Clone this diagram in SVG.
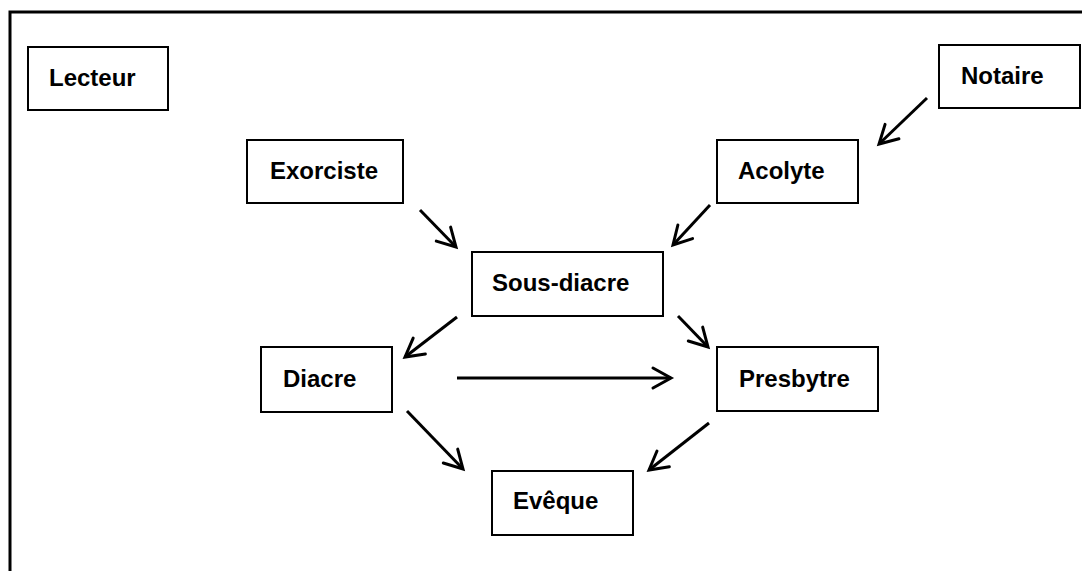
<svg xmlns="http://www.w3.org/2000/svg" width="1082" height="571" viewBox="0 0 1082 571">
<style>
.box{fill:#fff;stroke:#000;stroke-width:2}
.lbl{font-family:"Liberation Sans",Arial,sans-serif;font-weight:bold;font-size:24px;fill:#000}
.conn{stroke:#000;stroke-width:3;fill:none;marker-end:url(#arr)}
</style>
<defs>
<marker id="arr" markerUnits="userSpaceOnUse" markerWidth="30" markerHeight="30" viewBox="-25 -15 30 30" refX="0" refY="0" orient="auto" overflow="visible">
<path d="M-18,-10 L0,0 L-18,10" fill="none" stroke="#000" stroke-width="3" stroke-linecap="round" stroke-linejoin="miter"/>
</marker>
</defs>
<rect width="1082" height="571" fill="#fff"/>
<path id="frame" d="M10,571 V12 H1082" fill="none" stroke="#000" stroke-width="3"/>
<g id="lecteur"><rect class="box" x="28" y="47" width="140" height="63"/><text class="lbl" x="49" y="86">Lecteur</text></g>
<g id="notaire"><rect class="box" x="939" y="45" width="141" height="63"/><text class="lbl" x="961" y="84">Notaire</text></g>
<g id="exorciste"><rect class="box" x="247" y="140" width="156" height="63"/><text class="lbl" x="270" y="179">Exorciste</text></g>
<g id="acolyte"><rect class="box" x="717" y="140" width="141" height="63"/><text class="lbl" x="738" y="179">Acolyte</text></g>
<g id="sous-diacre"><rect class="box" x="472" y="252" width="191" height="64"/><text class="lbl" x="492" y="291">Sous-diacre</text></g>
<g id="diacre"><rect class="box" x="261" y="347" width="131" height="65"/><text class="lbl" x="283" y="387">Diacre</text></g>
<g id="presbytre"><rect class="box" x="717" y="347" width="161" height="64"/><text class="lbl" x="739" y="387">Presbytre</text></g>
<g id="eveque"><rect class="box" x="492" y="471" width="141" height="64"/><text class="lbl" x="513" y="509">Evêque</text></g>
<g id="connectors">
<line class="conn" x1="927" y1="98" x2="879" y2="144"/>
<line class="conn" x1="710" y1="205" x2="673" y2="245"/>
<line class="conn" x1="420" y1="210" x2="456" y2="247"/>
<line class="conn" x1="457" y1="317" x2="405" y2="357"/>
<line class="conn" x1="678" y1="316" x2="708" y2="347"/>
<line class="conn" x1="457" y1="378" x2="671" y2="378"/>
<line class="conn" x1="407" y1="411" x2="463" y2="469"/>
<line class="conn" x1="709" y1="423" x2="649" y2="470"/>
</g>
</svg>
